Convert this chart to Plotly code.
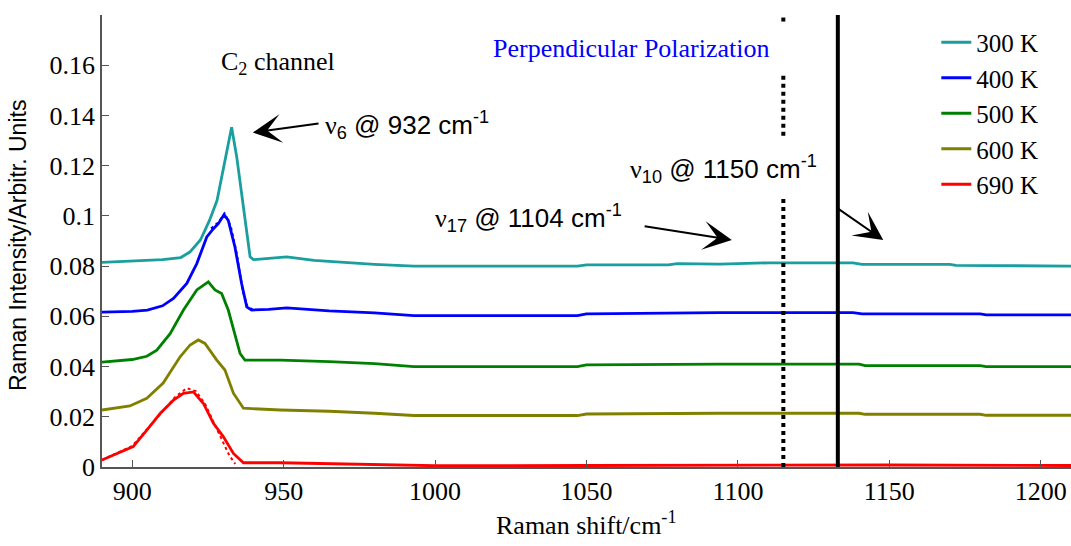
import plotly.graph_objects as go

# ---- Raman spectra, C2 channel, perpendicular polarization ----
temps = ["300 K", "400 K", "500 K", "600 K", "690 K"]
colors = ["#1a9e9e", "#0000ff", "#008000", "#808000", "#ff0000"]

x_300 = [890, 900, 910, 916, 919, 922.5, 925.5, 928, 930, 931.7, 932.8, 934.5, 936.7, 938.9,
         940, 945, 951, 960, 970, 980, 993, 1047, 1050, 1077, 1080, 1094, 1110, 1138, 1141,
         1170, 1172, 1198, 1200, 1210]
y_300 = [0.0815, 0.0820, 0.0826, 0.0834, 0.0856, 0.0904, 0.0982, 0.1062, 0.1180, 0.1287,
         0.1353, 0.1234, 0.1035, 0.0837, 0.0826, 0.0830, 0.0837, 0.0823, 0.0814, 0.0807,
         0.0800, 0.0800, 0.0805, 0.0805, 0.0810, 0.0808, 0.0813, 0.0813, 0.0807, 0.0807,
         0.0803, 0.0803, 0.0800, 0.0800]

x_400 = [890, 900, 905, 910, 913.6, 918, 921.3, 924.6, 926.8, 928.4, 930.3, 931.7, 933.9,
         936.1, 937.8, 939.4, 945, 951, 965, 980, 993, 1047, 1050, 1094, 1138, 1141, 1180,
         1182, 1210]
y_400 = [0.0617, 0.0620, 0.0625, 0.0642, 0.0671, 0.0731, 0.0810, 0.0916, 0.0949, 0.0969,
         0.1005, 0.0982, 0.0876, 0.0731, 0.0638, 0.0625, 0.0628, 0.0634, 0.0622, 0.0614,
         0.0603, 0.0603, 0.0610, 0.0615, 0.0615, 0.0610, 0.0610, 0.0606, 0.0606]

x_500 = [890, 900, 904.8, 908.1, 912.5, 916.9, 921.3, 925.1, 927.3, 929.5, 931.7, 933.9,
         935.6, 937.2, 949, 965, 980, 993, 1047, 1050, 1094, 1140, 1142, 1180, 1182, 1210]
y_500 = [0.0418, 0.0428, 0.0441, 0.0465, 0.0531, 0.0625, 0.0705, 0.0737, 0.0705, 0.0691,
         0.0625, 0.0531, 0.0452, 0.0426, 0.0426, 0.0420, 0.0412, 0.0400, 0.0400, 0.0407,
         0.0410, 0.0410, 0.0404, 0.0404, 0.0400, 0.0400]

x_600 = [890, 899.2, 904.8, 910.2, 915.8, 919.1, 921.8, 924, 927.9, 930.6, 933.4, 936.7,
         949, 965, 980, 993, 1047, 1050, 1094, 1140, 1142, 1180, 1182, 1210]
y_600 = [0.0227, 0.0243, 0.0274, 0.0334, 0.0439, 0.0486, 0.0506, 0.0492, 0.0426, 0.0386,
         0.0294, 0.0234, 0.0227, 0.0222, 0.0214, 0.0205, 0.0205, 0.0211, 0.0214, 0.0214,
         0.0210, 0.0210, 0.0206, 0.0206]

x_690 = [890, 900.3, 904.8, 909.2, 913.6, 916.9, 920.2, 923.5, 926.8, 930.1, 933.4, 936.7,
         949, 965, 980, 1000, 1050, 1100, 1150, 1210]
y_690 = [0.0028, 0.0081, 0.0147, 0.0213, 0.0266, 0.0293, 0.0299, 0.0253, 0.0174, 0.0120,
         0.0054, 0.0017, 0.0017, 0.0013, 0.0008, 0.0005, 0.0006, 0.0008, 0.0008, 0.0006]

# fitted band profiles (dotted overlays)
x_400_fit = [926, 928.5, 930.5, 932.5, 934.5, 936.5, 938, 940]
y_400_fit = [0.0950, 0.0975, 0.1010, 0.0960, 0.0850, 0.0700, 0.0640, 0.0625]
x_690_fit = [890, 900, 905, 910, 914, 918, 921, 924, 927, 930, 932, 934]
y_690_fit = [0.0028, 0.0084, 0.0152, 0.0222, 0.0277, 0.0314, 0.0302, 0.0252, 0.0177,
             0.0097, 0.0047, 0.0012]

# band markers
dotted_line_x = 1115
dotted_segments = [(0.0, 0.1076), (0.1319, 0.1562), (0.1774, 0.18)]
solid_line_x = 1133

x_ticks = [900, 950, 1000, 1050, 1100, 1150, 1200]
y_ticks = [0, 0.02, 0.04, 0.06, 0.08, 0.1, 0.12, 0.14, 0.16]

SERIF = "Liberation Serif"
SANS = "Liberation Sans"

fig = go.Figure()
series = [(x_300, y_300), (x_400, y_400), (x_500, y_500), (x_600, y_600), (x_690, y_690)]
for (xs, ys), name, col in zip(series, temps, colors):
    fig.add_trace(go.Scatter(x=xs, y=ys, mode="lines", name=name,
                             line=dict(color=col, width=2.8)))

fig.add_trace(go.Scatter(x=x_400_fit, y=y_400_fit, mode="lines", showlegend=False,
                         line=dict(color=colors[1], width=2, dash="dot")))
fig.add_trace(go.Scatter(x=x_690_fit, y=y_690_fit, mode="lines", showlegend=False,
                         line=dict(color=colors[4], width=2, dash="dot")))

shapes = []
for y0, y1 in dotted_segments:
    shapes.append(dict(type="line", xref="x", yref="y", x0=dotted_line_x, x1=dotted_line_x,
                       y0=y0, y1=y1, line=dict(color="black", width=4, dash="dot")))
shapes.append(dict(type="line", xref="x", yref="y", x0=solid_line_x, x1=solid_line_x,
                   y0=0, y1=0.18, line=dict(color="black", width=4)))

nu = "<span style='font-family:Liberation Serif'>ν</span>"
annotations = [
    dict(text="C<sub>2</sub> channel", x=928.6, y=0.161, xref="x", yref="y",
         xanchor="left", yanchor="middle", showarrow=False,
         font=dict(family=SERIF, size=26, color="black")),
    dict(text="Perpendicular Polarization", x=1064.7, y=0.1665, xref="x", yref="y",
         xanchor="center", yanchor="middle", showarrow=False,
         font=dict(family=SERIF, size=26, color="#0000ff")),
    dict(text=nu + "<sub>6</sub> @ 932 cm<sup>-1</sup>", x=963.0, y=0.1363,
         xref="x", yref="y", xanchor="left", yanchor="middle", showarrow=False,
         font=dict(family=SANS, size=26, color="black")),
    dict(text=nu + "<sub>17</sub> @ 1104 cm<sup>-1</sup>", x=999.3, y=0.0990,
         xref="x", yref="y", xanchor="left", yanchor="middle", showarrow=False,
         font=dict(family=SANS, size=26, color="black")),
    dict(text=nu + "<sub>10</sub> @ 1150 cm<sup>-1</sup>", x=1063.7, y=0.1185,
         xref="x", yref="y", xanchor="left", yanchor="middle", showarrow=False,
         font=dict(family=SANS, size=26, color="black")),
    # axis titles
    dict(text="Raman shift/cm<sup>-1</sup>", x=0.5005, y=-0.124, xref="paper", yref="paper",
         xanchor="center", yanchor="middle", showarrow=False,
         font=dict(family=SERIF, size=26, color="black")),
    dict(text="Raman Intensity/Arbitr. Units", x=-0.0867, y=0.491, xref="paper",
         yref="paper", xanchor="center", yanchor="middle", textangle=-90,
         showarrow=False, font=dict(family=SANS, size=23, color="black")),
]

# pointer arrows: (head x, head y, tail x, tail y)
arrows = [(939.8, 0.1332, 962.0, 0.1369),
          (1098.0, 0.0904, 1068.7, 0.0960),
          (1148.0, 0.0904, 1132.1, 0.1037)]
for hx, hy, tx, ty in arrows:
    annotations.append(dict(text="", x=hx, y=hy, ax=tx, ay=ty, xref="x", yref="y",
                            axref="x", ayref="y", showarrow=True, arrowhead=3,
                            arrowsize=2.4, arrowwidth=2, arrowcolor="black", standoff=0))

axis_common = dict(showgrid=False, zeroline=False, showline=True, linecolor="#555555",
                   linewidth=1.5, ticks="inside", ticklen=7, tickcolor="#555555",
                   tickwidth=1.3, tickfont=dict(family=SERIF, size=26, color="black"))

fig.update_layout(
    width=1071, height=546,
    margin=dict(l=102, r=0, t=15, b=79),
    paper_bgcolor="white", plot_bgcolor="white",
    xaxis=dict(range=[890, 1210], tickvals=x_ticks, **axis_common),
    yaxis=dict(range=[0, 0.18], tickvals=y_ticks, **axis_common),
    legend=dict(x=0.861, y=0.990, xanchor="left", yanchor="top",
                bgcolor="rgba(0,0,0,0)", borderwidth=0,
                font=dict(family=SERIF, size=25, color="black")),
    shapes=shapes,
    annotations=annotations,
)

fig.write_html("out.html")
